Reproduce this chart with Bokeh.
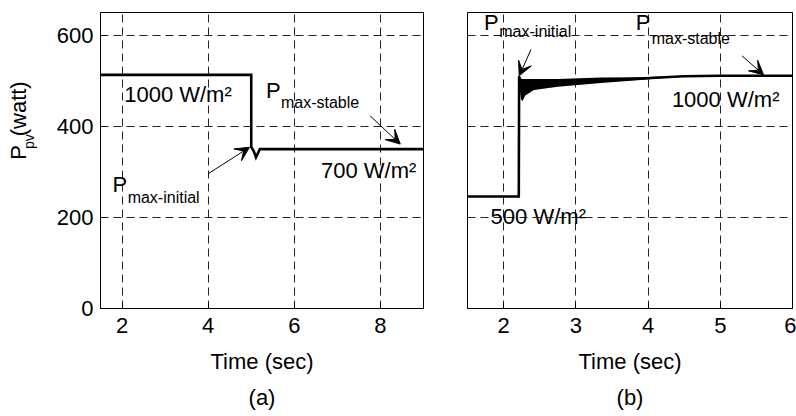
import math
from bokeh.plotting import figure
from bokeh.layouts import row
from bokeh.models import Label, Arrow, VeeHead, FixedTicker, Range1d, Title
from bokeh.embed import file_html
from bokeh.resources import INLINE

FONT = "Liberation Sans"
H = 416
DY = 18  # baseline correction (data units)

# ---- data: panel (a) 1000 -> 700 W/m2 ----
t_a = [1.5, 5.0, 5.0, 5.06, 5.11, 5.2, 9.0]
p_a = [513, 513, 355, 345, 332, 350, 350]

# ---- data: panel (b) 500 -> 1000 W/m2 ----
t_b = [1.5, 2.21, 2.215, 2.24, 2.26, 2.3, 2.42, 2.75, 3.35, 3.9, 4.5, 5.0, 6.0]
p_b = [246, 246, 510, 482, 478, 488, 493, 496, 501, 505, 510, 511, 511]
band_t = [2.215, 2.24, 2.26, 2.3, 2.42, 2.75, 3.35, 3.9, 4.5]
band_hi = [512, 505, 504, 504, 504, 504, 507, 508, 511]
band_lo = [492, 460, 455, 468, 480, 487, 495, 502, 510]

xticks_a = [2, 4, 6, 8]
xticks_b = [2, 3, 4, 5, 6]
yticks = [0, 200, 400, 600]


def make_fig(width, bl, br, x_end, xticks, tag):
    p = figure(width=width, height=H, x_range=Range1d(1.5, x_end), y_range=Range1d(0, 650),
               output_backend="svg", toolbar_location=None,
               min_border_left=bl, min_border_right=br, min_border_top=12, min_border_bottom=108)
    p.background_fill_color = "white"
    p.border_fill_color = "white"
    p.outline_line_color = "black"
    p.outline_line_width = 1
    p.outline_line_alpha = 1
    p.xaxis.ticker = FixedTicker(ticks=xticks)
    p.yaxis.ticker = FixedTicker(ticks=yticks)
    for ax in p.axis:
        ax.axis_line_color = "black"
        ax.major_tick_in = 5
        ax.major_tick_out = 0
        ax.major_tick_line_color = "black"
        ax.minor_tick_line_color = None
        ax.major_label_text_font = FONT
        ax.major_label_text_font_size = "22px"
        ax.major_label_text_color = "black"
        ax.axis_label_text_font = FONT
        ax.axis_label_text_font_size = "22px"
        ax.axis_label_text_font_style = "normal"
        ax.axis_label_text_color = "black"
    p.xaxis.major_label_standoff = 9
    p.yaxis.major_label_standoff = 7
    p.xaxis.axis_label = "Time (sec)"
    p.xaxis.axis_label_standoff = 13
    p.xgrid.ticker = FixedTicker(ticks=xticks)
    p.ygrid.ticker = FixedTicker(ticks=yticks)
    for g in (p.xgrid[0], p.ygrid[0]):
        g.grid_line_color = "#222222"
        g.grid_line_width = 1
        g.grid_line_dash = "8 5"
    p.add_layout(Title(text=tag, align="center", text_font=FONT, text_font_size="22px",
                       text_font_style="normal", text_color="black", standoff=12), "below")
    return p


def txt(p, x, y, s, size="22px", angle=0.0):
    p.add_layout(Label(x=x, y=y, text=s, angle=angle,
                       text_font=FONT, text_font_size=size, text_color="black",
                       text_align="left", text_baseline="alphabetic"))


def arrow(p, x0, y0, x1, y1):
    p.add_layout(Arrow(x_start=x0, y_start=y0, x_end=x1, y_end=y1, line_width=1, line_color="black",
                       end=VeeHead(size=14, fill_color="black", line_color="black")))


# ---------------- y-axis title strip ----------------
pl = figure(width=50, height=H, x_range=Range1d(0, 50), y_range=Range1d(0, H),
            output_backend="svg", toolbar_location=None, x_axis_location=None, y_axis_location=None,
            min_border_left=0, min_border_right=0, min_border_top=0, min_border_bottom=0)
pl.outline_line_color = None
pl.grid.visible = False
pl.background_fill_color = "white"
pl.border_fill_color = "white"
txt(pl, 18, H - 207, "P", angle=math.pi / 2)
txt(pl, 28, H - 192, "pv", size="14px", angle=math.pi / 2)
txt(pl, 18, H - 174, "(watt)", angle=math.pi / 2)

# ---------------- panel (a) ----------------
p1 = make_fig(390, 50, 17, 9.0, xticks_a, "(a)")
p1.line(t_a, p_a, line_color="black", line_width=2.6, line_join="miter")
txt(p1, 2.05, 452 + DY, "1000 W/m²")
txt(p1, 6.62, 285 + DY, "700 W/m²")
txt(p1, 5.34, 460 + DY, "P")
txt(p1, 5.69, 434 + DY, "max-stable", size="16px")
txt(p1, 1.78, 255 + DY, "P")
txt(p1, 2.13, 226 + DY, "max-initial", size="16px")
arrow(p1, 4.0, 296, 4.96, 354)
arrow(p1, 7.76, 423, 8.46, 361)

# ---------------- panel (b) ----------------
p2 = make_fig(356, 27, 4, 6.0, xticks_b, "(b)")
p2.yaxis.visible = False
p2.varea(x=band_t, y1=band_lo, y2=band_hi, fill_color="black")
p2.line(t_b, p_b, line_color="black", line_width=2.6, line_join="miter")
txt(p2, 1.82, 185 + DY, "500 W/m²")
txt(p2, 4.33, 441 + DY, "1000 W/m²")
txt(p2, 1.73, 609 + DY, "P")
txt(p2, 1.94, 591 + DY, "max-initial", size="16px")
txt(p2, 3.83, 609 + DY, "P")
txt(p2, 4.05, 574 + DY, "max-stable", size="16px")
arrow(p2, 2.38, 569, 2.216, 511)
arrow(p2, 5.30, 555, 5.60, 513)

layout = row(pl, p1, p2)
open("out.html", "w").write(file_html(layout, INLINE))
